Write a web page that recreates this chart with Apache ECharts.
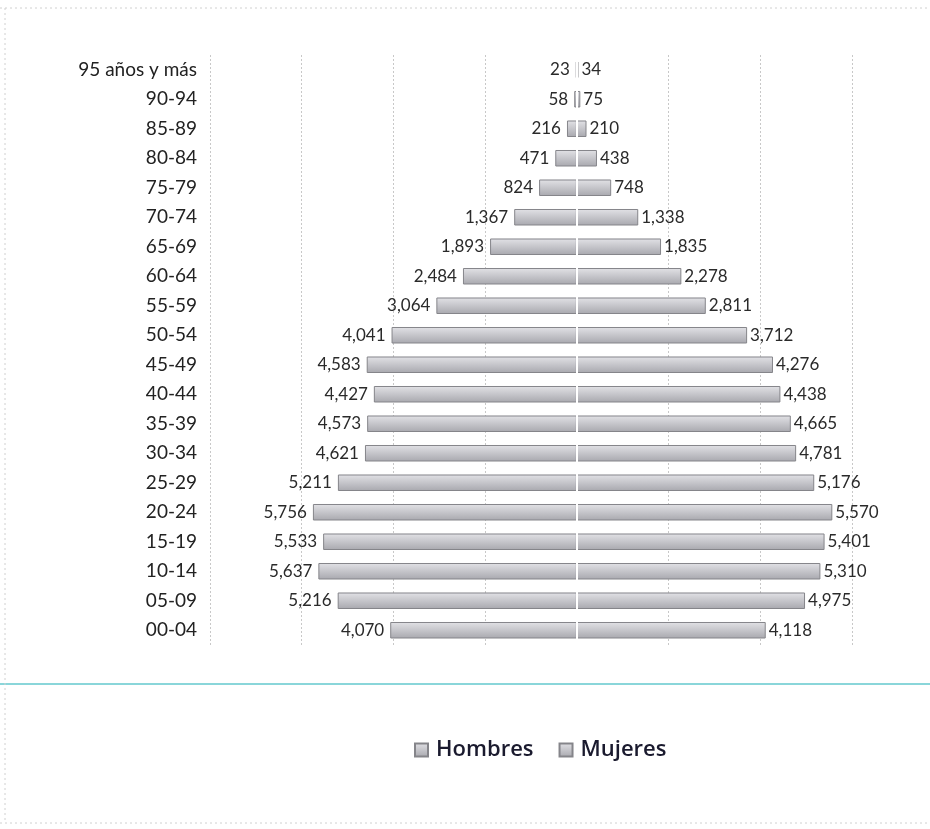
<!DOCTYPE html>
<html>
<head>
<meta charset="utf-8">
<script src="https://cdn.jsdelivr.net/npm/echarts@6/dist/echarts.min.js"></script>
<style>
html,body{margin:0;padding:0;background:#fff;}
#c{width:930px;height:829px;}
</style>
</head>
<body>
<div id="c"></div>
<script>
const categories = ['00-04','05-09','10-14','15-19','20-24','25-29','30-34','35-39','40-44','45-49','50-54','55-59','60-64','65-69','70-74','75-79','80-84','85-89','90-94','95 años y más'];
const hombres = [4070,5216,5637,5533,5756,5211,4621,4573,4427,4583,4041,3064,2484,1893,1367,824,471,216,58,23];
const mujeres = [4118,4975,5310,5401,5570,5176,4781,4665,4438,4276,3712,2811,2278,1835,1338,748,438,210,75,34];
const xTicks = {min:-8000, max:7700, interval:2000};

const fmt = v => Math.abs(v).toLocaleString('en-US');
const barFill = new echarts.graphic.LinearGradient(0,0,0,1,[
  {offset:0,color:'#e2e2e6'},{offset:0.45,color:'#c8c8cd'},{offset:1,color:'#a8a8ae'}
]);
const labelFont = {fontFamily:'Lato', fontSize:17, color:'#2a2a2a'};

const chart = echarts.init(document.getElementById('c'));
chart.setOption({
  backgroundColor:'#ffffff',
  animation:false,
  grid:{left:210, right:0, top:55, bottom:184, containLabel:false},
  xAxis:{type:'value', min:xTicks.min, max:xTicks.max, interval:xTicks.interval,
    axisLabel:{show:false}, axisLine:{show:false}, axisTick:{show:false},
    splitLine:{show:true, lineStyle:{color:'#c8c8c8', type:[2,2], width:1}}},
  yAxis:{type:'category', data:categories,
    axisLine:{show:false, onZero:false}, axisTick:{show:false},
    axisLabel:{margin:13, fontFamily:'Lato', fontSize:19, color:'#222'}},
  legend:{data:['Hombres','Mujeres'], left:409, top:734, icon:'rect', itemWidth:13, itemHeight:13, itemGap:25,
    textStyle:{fontFamily:'Open Sans', fontSize:22, fontWeight:600, color:'#1a1a2e', padding:[0,0,0,3]}},
  graphic:[
    {type:'line', shape:{x1:0,y1:684,x2:930,y2:684}, style:{stroke:'#8ad6da', lineWidth:2}},
    {type:'line', shape:{x1:0,y1:8,x2:930,y2:8}, style:{stroke:'#d0d0d0', lineWidth:1, lineDash:[2,3]}},
    {type:'line', shape:{x1:5,y1:8,x2:5,y2:823}, style:{stroke:'#d0d0d0', lineWidth:1, lineDash:[2,3]}},
    {type:'line', shape:{x1:0,y1:823,x2:930,y2:823}, style:{stroke:'#d0d0d0', lineWidth:1, lineDash:[2,3]}}
  ],
  series:[
    {name:'Hombres', type:'bar', stack:'p', barWidth:'56%',
      data:hombres.map(v=>-v),
      itemStyle:{color:barFill, borderColor:'#85858a', borderWidth:1},
      label:{show:true, position:'left', distance:6, formatter:p=>fmt(p.value), ...labelFont},
      markLine:{silent:true, symbol:'none', label:{show:false}, data:[{xAxis:0}],
        lineStyle:{color:'#ffffff', width:2, type:'solid'}}},
    {name:'Mujeres', type:'bar', stack:'p', barWidth:'56%',
      data:mujeres,
      itemStyle:{color:barFill, borderColor:'#85858a', borderWidth:1},
      label:{show:true, position:'right', distance:3, formatter:p=>fmt(p.value), ...labelFont}}
  ]
});
</script>
</body>
</html>
